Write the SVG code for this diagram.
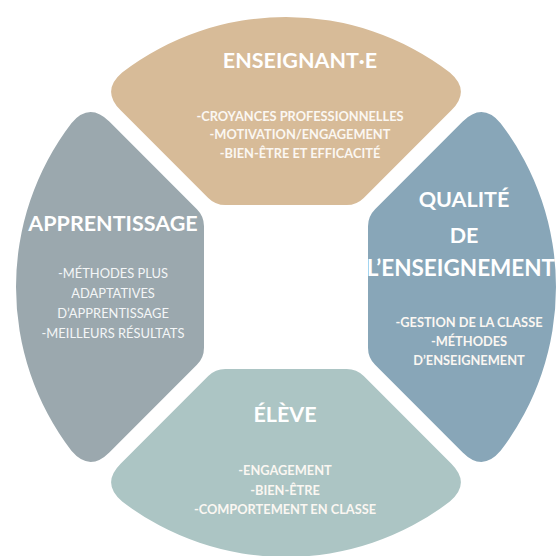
<svg xmlns="http://www.w3.org/2000/svg" width="556" height="556" viewBox="0 0 556 556">
<defs>
<style>
.title{font-family:Lato,"Open Sans","Liberation Sans",sans-serif;font-weight:700;font-size:21.5px;fill:#ffffff;text-anchor:middle}
.item{font-family:Lato,"Open Sans","Liberation Sans",sans-serif;font-weight:700;font-size:12.8px;fill:#fbf7f2;text-anchor:middle}
.itemr{font-family:Lato,"Open Sans","Liberation Sans",sans-serif;font-weight:400;font-size:12.9px;fill:#f4f6f7;text-anchor:middle}
</style>
<path id="seg" d="M -60.68,-82 L 60.68,-82 Q 70.68,-82 77.75,-89.07 L 165.38,-176.7 Q 185.18,-196.5 163.84,-214.6 A 270 270 0 0 0 -163.84,-214.6 Q -185.18,-196.5 -165.38,-176.7 L -77.75,-89.07 Q -70.68,-82 -60.68,-82 Z"/>
</defs>
<rect width="556" height="556" fill="#ffffff"/>
<g id="enseignant">
<use href="#seg" transform="translate(286 287)" fill="#d7bb98"/>
<text class="title" x="300" y="68">ENSEIGNANT·E</text>
<text class="item" x="300" y="120.5">-CROYANCES PROFESSIONNELLES</text>
<text class="item" x="300" y="139">-MOTIVATION/ENGAGEMENT</text>
<text class="item" x="300" y="158">-BIEN-ÊTRE ET EFFICACITÉ</text>
</g>
<g id="qualite">
<use href="#seg" transform="translate(286 287) rotate(90)" fill="#88a6b8"/>
<text class="title" x="464" y="207">QUALITÉ</text>
<text class="title" x="464" y="243">DE</text>
<text class="title" x="461" y="276" style="font-size:22.5px">L’ENSEIGNEMENT</text>
<text class="item" x="469" y="327">-GESTION DE LA CLASSE</text>
<text class="item" x="469" y="346">-MÉTHODES</text>
<text class="item" x="469" y="365">D’ENSEIGNEMENT</text>
</g>
<g id="eleve">
<use href="#seg" transform="translate(286 287) rotate(180)" fill="#acc5c4"/>
<text class="title" x="285" y="422">ÉLÈVE</text>
<text class="item" x="285" y="475">-ENGAGEMENT</text>
<text class="item" x="285" y="495">-BIEN-ÊTRE</text>
<text class="item" x="285" y="514">-COMPORTEMENT EN CLASSE</text>
</g>
<g id="apprentissage">
<use href="#seg" transform="translate(286 287) rotate(270)" fill="#9ba8ae"/>
<text class="title" x="113" y="231">APPRENTISSAGE</text>
<text class="itemr" x="113" y="278">-MÉTHODES PLUS</text>
<text class="itemr" x="113" y="298">ADAPTATIVES</text>
<text class="itemr" x="113" y="318">D’APPRENTISSAGE</text>
<text class="itemr" x="113" y="338">-MEILLEURS RÉSULTATS</text>
</g>
<g id="connectors"></g>
</svg>
